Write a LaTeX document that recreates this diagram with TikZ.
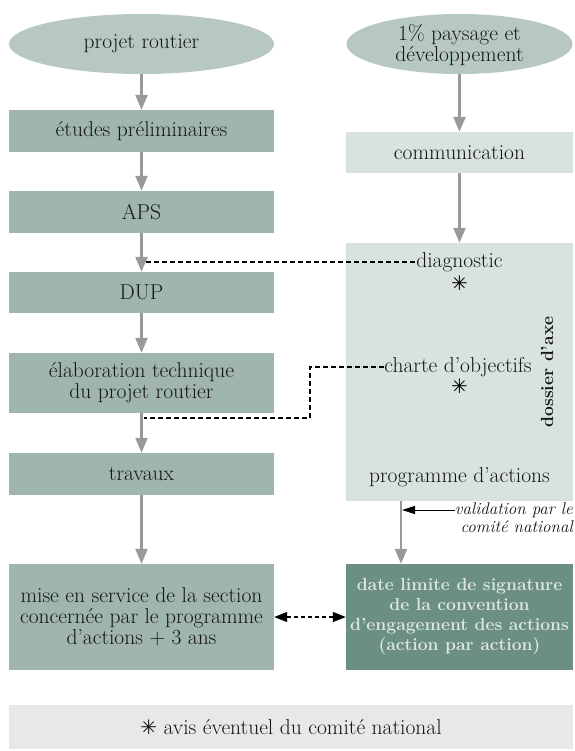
\documentclass[tikz,border=0pt]{standalone}
\usepackage{fontspec}
\newfontfamily\symbfont{DejaVu Sans}
\usetikzlibrary{arrows.meta,shapes.geometric}
\definecolor{ellc}{HTML}{B6C8C1}
\definecolor{lboxc}{HTML}{9FB5AD}
\definecolor{rboxc}{HTML}{D8E2DE}
\definecolor{datec}{HTML}{6B8F80}
\definecolor{datetxt}{HTML}{DDE6E2}
\definecolor{legc}{HTML}{E8E8E8}
\definecolor{arrc}{HTML}{999999}
\definecolor{txt}{HTML}{151515}
\newcommand{\mainfs}{\fontsize{21.5}{21}\selectfont}
\newcommand{\boldfs}{\fontsize{17.5}{20}\selectfont\bfseries}
\newcommand{\itfs}{\fontsize{17}{14}\selectfont\itshape}
\newcommand{\astk}{{\symbfont\fontsize{20}{20}\selectfont ✳}}
\tikzset{
  base/.style={inner sep=0pt, align=center, font=\mainfs, text=txt},
  ellbox/.style={ellipse, fill=ellc, inner sep=0pt, minimum height=60pt},
  lbox/.style={base, fill=lboxc, minimum width=265pt},
  rbox/.style={base, fill=rboxc, minimum width=227pt},
  flow/.style={draw=arrc, line width=2.5pt, -{Triangle[width=12pt,length=15pt]}},
  dline/.style={draw=black, line width=1.2pt, dash pattern=on 5pt off 3pt},
  blkarrow/.style={draw=black, line width=1pt, -{Triangle[width=8pt,length=13pt]}},
}
\begin{document}
\begin{tikzpicture}[x=1pt,y=-1pt]
\useasboundingbox (0,0) rectangle (574,751);
% left column
\node[ellbox, minimum width=265pt] (pr) at (141.5,44) {};
\node[base] (prt) at (141.5,44) {projet routier};
\node[lbox, minimum height=42pt] (et) at (141.5,131) {études préliminaires};
\node[lbox, minimum height=42pt] (aps) at (141.5,212) {APS};
\node[lbox, minimum height=41pt] (dup) at (141.5,292.5) {DUP};
\node[lbox, minimum height=60pt] (elab) at (141.5,383) {élaboration technique\\du projet routier};
\node[lbox, minimum height=42pt] (trav) at (141.5,474) {travaux};
\node[lbox, minimum height=106pt] (mise) at (141.5,617) {mise en service de la section\\concernée par le programme\\d’actions + 3 ans};
% right column
\node[ellbox, minimum width=226pt] (pd) at (459.5,44) {};
\node[base] (pdt) at (459.5,45) {1\% paysage et\\développement};
\node[rbox, minimum height=41pt] (comm) at (459.5,152.5) {communication};
\node[rbox, minimum height=258pt] (dos) at (459.5,372) {};
\node[base] (diag) at (459.5,262) {diagnostic};
\node[inner sep=0pt] (ast1) at (459.5,283) {\astk};
\node[base] (chart) at (458,367) {charte d’objectifs};
\node[inner sep=0pt] (ast2) at (459.5,386) {\astk};
\node[base] (prog) at (459.5,477) {programme d’actions};
\node[base, font=\boldfs, rotate=90] (dax) at (547,372) {dossier d’axe};
\node[base, fill=datec, text=datetxt, font=\boldfs, minimum width=227pt, minimum height=106pt] (date) at (459.5,617) {date limite de signature\\de la convention\\d’engagement des actions\\(action par action)};
\node[base, font=\itfs, anchor=east] (v1) at (573,510) {validation par le};
\node[base, font=\itfs, anchor=east] (v2) at (573,527) {comité national};
% legend
\node[base, fill=legc, minimum width=564pt, minimum height=44pt] (leg) at (291,727) {\astk{} avis éventuel du comité national};
% flow arrows
\draw[flow] (pr) -- (et);
\draw[flow] (et) -- (aps);
\draw[flow] (aps) -- (dup);
\draw[flow] (dup) -- (elab);
\draw[flow] (elab) -- (trav);
\draw[flow] (trav) -- (mise);
\draw[flow] (pd) -- (comm);
\draw[flow] (comm) -- (dos);
\draw[flow] ([xshift=-58.5pt]dos.south) -- ([xshift=-58.5pt]date.north);
% dashed links
\coordinate (c1) at (146,262);
\coordinate (c2) at (144,418);
\coordinate (k1) at (310,367);
\coordinate (k2) at (310,418);
\draw[dline] (c1) -- (diag.west);
\draw[dline] (chart.west) -- (k1) -- (k2) -- (c2);
\coordinate (vt) at (402,510);
\draw[blkarrow] (v1.west) -- (vt);
\draw[draw=black, line width=1.2pt, dash pattern=on 4pt off 3pt, {Triangle[width=10pt,length=13pt]}-{Triangle[width=10pt,length=13pt]}] (mise.east) -- (date.west);
\end{tikzpicture}
\end{document}
